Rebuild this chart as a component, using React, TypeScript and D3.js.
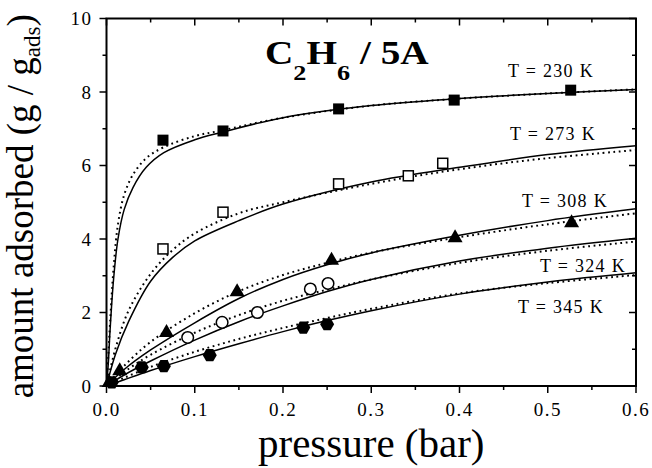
import React from 'react';
import * as d3 from 'd3';

// measured points (pressure in bar, amount in g/g_ads)
const p230 = [0.064, 0.132, 0.263, 0.394, 0.526];
const q230 = [6.69, 6.94, 7.54, 7.78, 8.05];
const p273 = [0.064, 0.132, 0.263, 0.342, 0.381];
const q273 = [3.73, 4.73, 5.5, 5.72, 6.06];
const p308 = [0.003, 0.015, 0.068, 0.148, 0.255, 0.395, 0.527];
const q308 = [0.12, 0.44, 1.48, 2.59, 3.45, 4.06, 4.47];
const p324 = [0.092, 0.131, 0.171, 0.231, 0.251];
const q324 = [1.32, 1.73, 2.0, 2.64, 2.79];
const p345 = [0.006, 0.04, 0.065, 0.117, 0.223, 0.25];
const q345 = [0.1, 0.51, 0.54, 0.84, 1.59, 1.68];

// fit curves (solid and dotted)
const fitP230 = [0, 0.002, 0.004, 0.008, 0.013, 0.02, 0.03, 0.045, 0.065, 0.1, 0.13, 0.2, 0.3, 0.4, 0.5, 0.6];
const solid230 = [0, 0.6, 1.5, 2.9, 4.0, 4.8, 5.4, 5.95, 6.35, 6.7, 6.9, 7.3, 7.63, 7.82, 7.96, 8.07];
const dotted230 = [0, 0.8, 1.7, 3.2, 4.4, 5.2, 5.75, 6.2, 6.5, 6.8, 6.95, 7.3, 7.63, 7.82, 7.96, 8.07];
const fitP273 = [0, 0.01, 0.025, 0.05, 0.075, 0.1, 0.15, 0.2, 0.3, 0.4, 0.5, 0.6];
const solid273 = [0, 0.85, 1.75, 2.85, 3.5, 3.95, 4.5, 4.95, 5.55, 5.95, 6.3, 6.54];
const dotted273 = [0, 1.0, 2.05, 3.05, 3.7, 4.15, 4.7, 5.0, 5.5, 5.9, 6.2, 6.42];
const fitP = [0, 0.02, 0.05, 0.1, 0.15, 0.2, 0.25, 0.3, 0.4, 0.5, 0.6];
const solid308 = [0, 0.45, 0.98, 1.72, 2.38, 2.9, 3.3, 3.62, 4.1, 4.5, 4.82];
const dotted308 = [0, 0.55, 1.2, 1.98, 2.58, 3.02, 3.35, 3.63, 4.05, 4.4, 4.7];
const solid324 = [0, 0.3, 0.68, 1.25, 1.75, 2.18, 2.57, 2.9, 3.4, 3.75, 4.02];
const dotted324 = [0, 0.38, 0.85, 1.45, 1.93, 2.32, 2.62, 2.9, 3.35, 3.68, 3.93];
const solid345 = [0, 0.17, 0.42, 0.8, 1.15, 1.48, 1.78, 2.05, 2.5, 2.83, 3.08];
const dotted345 = [0, 0.22, 0.52, 0.93, 1.28, 1.58, 1.85, 2.1, 2.52, 2.8, 3.02];

const xTicks = [0, 0.1, 0.2, 0.3, 0.4, 0.5, 0.6];
const xMinor = [0.05, 0.15, 0.25, 0.35, 0.45, 0.55];
const yTicks = [0, 2, 4, 6, 8, 10];
const yMinor = [1, 3, 5, 7, 9];

const tempLabels = ['T = 230 K', 'T = 273 K', 'T = 308 K', 'T = 324 K', 'T = 345 K'];

const W = 652, H = 468;
const x = d3.scaleLinear().domain([0, 0.6]).range([106.5, 636]);
const y = d3.scaleLinear().domain([0, 10]).range([386, 18.5]);

const zip = (a: number[], b: number[]) => a.map((v, i) => [v, b[i]] as [number, number]);
const line = d3.line<[number, number]>().x(d => x(d[0])).y(d => y(d[1])).curve(d3.curveCatmullRom.alpha(0.5));

const hexPath = (r: number) =>
  d3.range(6).map(i => {
    const a = (Math.PI / 3) * i;
    return `${i ? 'L' : 'M'}${(r * Math.cos(a)).toFixed(2)},${(r * Math.sin(a)).toFixed(2)}`;
  }).join('') + 'Z';

const Marker = ({ kind, cx, cy }: { kind: string; cx: number; cy: number }) => {
  if (kind === 'fsq') return <rect x={cx - 5.5} y={cy - 5.5} width={11} height={11} fill="#000" />;
  if (kind === 'osq') return <rect x={cx - 5} y={cy - 5} width={10} height={10} fill="#fff" stroke="#000" strokeWidth={1.5} />;
  if (kind === 'tri') return <path d={`M${cx},${cy - 7.5}L${cx + 7.5},${cy + 5.5}L${cx - 7.5},${cy + 5.5}Z`} fill="#000" />;
  if (kind === 'ocir') return <circle cx={cx} cy={cy} r={5.8} fill="#fff" stroke="#000" strokeWidth={1.5} />;
  return <path d={hexPath(7)} transform={`translate(${cx},${cy})`} fill="#000" />;
};

const App = () => {
  const series = [
    { kind: 'fsq', p: p230, q: q230 },
    { kind: 'osq', p: p273, q: q273 },
    { kind: 'tri', p: p308, q: q308 },
    { kind: 'ocir', p: p324, q: q324 },
    { kind: 'hex', p: p345, q: q345 },
  ];
  const fits = [
    { p: fitP230, s: solid230, d: dotted230 },
    { p: fitP273, s: solid273, d: dotted273 },
    { p: fitP, s: solid308, d: dotted308 },
    { p: fitP, s: solid324, d: dotted324 },
    { p: fitP, s: solid345, d: dotted345 },
  ];
  const labelPos = [[508, 77], [510, 140], [522, 207], [540, 272], [518, 313]];
  const x0 = x.range()[0], x1 = x.range()[1], y0 = y.range()[0], y1 = y.range()[1];

  return (
    <svg width={W} height={H} className="chart" style={{ position: 'absolute', left: 0, top: 0, background: '#fff' }}>
      <style>{`.chart text { font-family: "Liberation Serif", "Times New Roman", Tinos, serif; }`}</style>
      <defs>
        <clipPath id="plot">
          <rect x={x0} y={y1} width={x1 - x0} height={y0 - y1} />
        </clipPath>
      </defs>

      <g clipPath="url(#plot)" fill="none" stroke="#000">
        {fits.map((f, i) => (
          <g key={i}>
            <path d={line(zip(f.p, f.d)) || ''} strokeWidth={2} strokeDasharray="1.8,3.6" />
            <path d={line(zip(f.p, f.s)) || ''} strokeWidth={1.5} />
          </g>
        ))}
      </g>

      {series.map((s, i) => (
        <g key={i}>
          {s.p.map((pv, j) => <Marker key={j} kind={s.kind} cx={x(pv)} cy={y(s.q[j])} />)}
        </g>
      ))}

      {/* frame and ticks */}
      <rect x={x0} y={y1} width={x1 - x0} height={y0 - y1} fill="none" stroke="#000" strokeWidth={2} />
      <g stroke="#000" strokeWidth={1.5}>
        {xTicks.map(t => (
          <g key={t}>
            <line x1={x(t)} x2={x(t)} y1={y0} y2={y0 + 7} />
            <line x1={x(t)} x2={x(t)} y1={y1} y2={y1 + 7} />
          </g>
        ))}
        {xMinor.map(t => (
          <g key={t}>
            <line x1={x(t)} x2={x(t)} y1={y0} y2={y0 + 4} />
            <line x1={x(t)} x2={x(t)} y1={y1} y2={y1 + 4} />
          </g>
        ))}
        {yTicks.map(t => (
          <g key={t}>
            <line x1={x0 - 7} x2={x0} y1={y(t)} y2={y(t)} />
            <line x1={x1 - 7} x2={x1} y1={y(t)} y2={y(t)} />
          </g>
        ))}
        {yMinor.map(t => (
          <g key={t}>
            <line x1={x0 - 4} x2={x0} y1={y(t)} y2={y(t)} />
            <line x1={x1 - 4} x2={x1} y1={y(t)} y2={y(t)} />
          </g>
        ))}
      </g>

      <g fontSize={19} fill="#000">
        {xTicks.map(t => (
          <text key={t} x={x(t)} y={416} textAnchor="middle" letterSpacing={1.5}>{t.toFixed(1)}</text>
        ))}
        {yTicks.map(t => (
          <text key={t} x={x0 - 14} y={y(t) + 6.5} textAnchor="end" letterSpacing={1.5}>{t}</text>
        ))}
      </g>

      <g fontSize={18} fill="#000">
        {tempLabels.map((l, i) => (
          <text key={l} x={labelPos[i][0]} y={labelPos[i][1]} letterSpacing={1.3}>{l}</text>
        ))}
      </g>

      <text transform="translate(265,64) scale(1.19,1)" fontSize={33} fontWeight="bold">
        C<tspan fontSize={22} dy={16}>2</tspan><tspan dy={-16}>H</tspan><tspan fontSize={22} dy={16}>6</tspan><tspan dy={-16}> / 5A</tspan>
      </text>

      <text x={(x0 + x1) / 2} y={457} textAnchor="middle" fontSize={41}>pressure (bar)</text>

      <text transform={`translate(33,${(y0 + y1) / 2 + 4}) rotate(-90)`} textAnchor="middle" fontSize={37}>
        amount adsorbed (g / g<tspan fontSize={23} dy={7}>ads</tspan><tspan dy={-7}>)</tspan>
      </text>
    </svg>
  );
};

export default App;
